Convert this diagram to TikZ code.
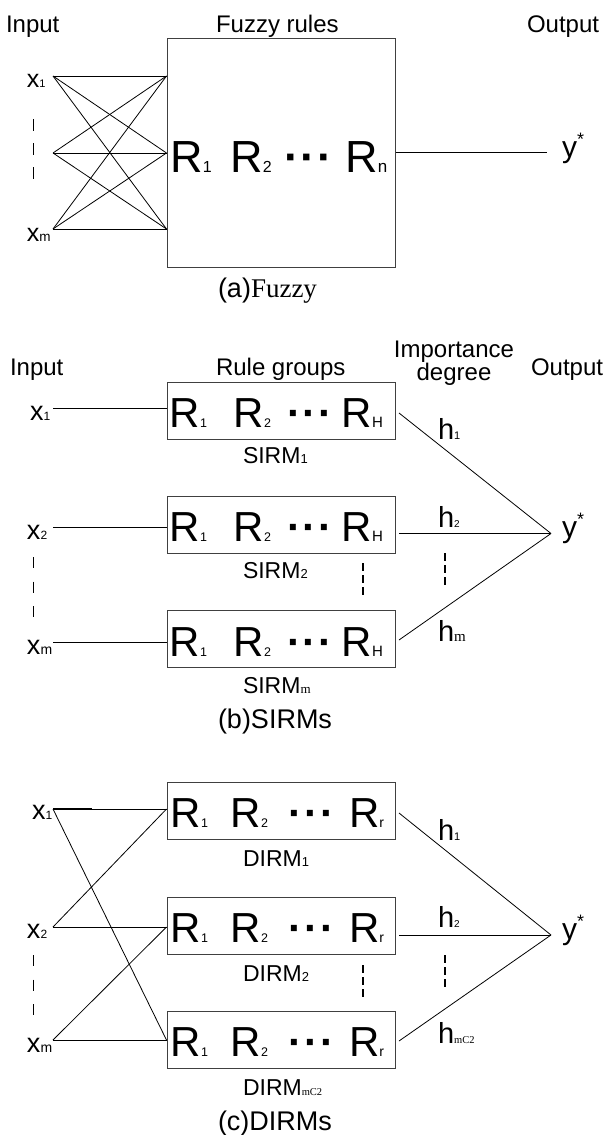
\documentclass[tikz,border=0pt]{standalone}
\usepackage{fontspec}
\setmainfont{Liberation Sans}
\newfontfamily\tnr{Liberation Serif}
\usetikzlibrary{calc}

\newcommand\fs[1]{\fontsize{#1}{#1}\selectfont}
\newcommand\rdots{{\bfseries\char"00B7\kern2pt\char"00B7\kern2pt\char"00B7}}
\newcommand\ystar{{\fs{18}\raisebox{12pt}{*}}}

\begin{document}
\begin{tikzpicture}[x=1pt,y=-1pt,
  txt/.style={inner sep=0pt, outer sep=0pt, anchor=base west},
  hdr/.style={txt, font=\fs{24}},
  caption/.style={txt, font=\fs{27}},
  invar/.style={txt, font=\fs{27}},
  wgt/.style={txt, font=\fs{29}},
  ystyle/.style={txt, font=\fs{30}},
  grp/.style={txt, font=\fs{23}},
  rtext/.style={txt, font=\fs{42}},
  rbig/.style={txt, font=\fs{45}},
  rulebox/.style={draw=black!75, line width=1pt, minimum width=228pt, inner sep=0pt},
  wire/.style={line width=0.8pt, black},
  vdots/.style={line width=1.6pt, dash pattern=on 11pt off 13.5pt},
  gapdash/.style={line width=1.4pt, dash pattern=on 8pt off 4pt},
]
\useasboundingbox (0,0) rectangle (608,1135);

% ---------- (a) single fuzzy rule base ----------
\node[hdr] (a-in) at (6,32) {Input};
\node[hdr] (a-rules) at (216,32) {Fuzzy rules};
\node[hdr] (a-out) at (527,32) {Output};
\node[rulebox, minimum height=229pt] (a-box) at (281,152.5) {};
\node[rbig] (a-r1) at (170.4,172) {R{\fs{16}1}};
\node[rbig] (a-r2) at (230.4,172) {R{\fs{16}2}};
\node[rbig] (a-rd) at (284,172) {\rdots};
\node[rbig] (a-rn) at (345.4,172) {R{\fs{17}n}};

\node[invar, font=\fs{25}] (a-x1) at (27,87) {x{\fs{11}1}};
\node[invar, font=\fs{25}] (a-xm) at (27,241) {x{\fs{13.5}m}};
\coordinate (a-p1) at (53,76);
\coordinate (a-p2) at (53,153);
\coordinate (a-p3) at (53,229);
\foreach \i in {1,2,3}
  \foreach \j in {1,2,3}
    \draw[wire] (a-p\i) -- (a-box.west |- a-p\j);
\draw[vdots, dash pattern=on 12pt off 12pt] (33.5,119) -- (33.5,179);

\coordinate (a-yend) at (547,152.5);
\draw[wire] (a-box.east) -- (a-yend);
\node[ystyle] (a-y) at (562,157) {y\ystar};
\node[caption] (a-cap) at (218,297) {(a){\tnr Fuzzy}};

% ---------- (b) SIRMs ----------
\node[hdr] (b-in) at (10,375) {Input};
\node[hdr] (b-rules) at (216,375) {Rule groups};
\node[inner sep=0pt, outer sep=0pt, anchor=north, align=center,
      font=\fontsize{24}{17}\selectfont] (b-imp) at (454,341) {Importance\\degree};
\node[hdr] (b-out) at (531,375) {Output};

\node[rulebox, minimum height=57pt] (b-box1) at (281,410.5) {};
\node[rulebox, minimum height=57pt] (b-box2) at (281,524.5) {};
\node[rulebox, minimum height=57pt] (b-box3) at (281,639) {};
\foreach \k/\yy in {1/427,2/541,3/656}{
  \node[rtext] (b-r\k a) at (169.7,\yy) {R{\fs{12.5}1}};
  \node[rtext] (b-r\k b) at (233.7,\yy) {R{\fs{12.5}2}};
  \node[rtext] (b-r\k d) at (287,\yy) {\rdots};
  \node[rtext] (b-r\k n) at (341.7,\yy) {R{\fs{15}H}};
}

\node[invar] (b-x1) at (30,420) {x{\fs{12}1}};
\node[invar] (b-x2) at (27,539) {x{\fs{12}2}};
\node[invar] (b-xm) at (27,654) {x{\fs{14}m}};
\coordinate (b-p1) at (53,408);
\coordinate (b-p2) at (53,527);
\coordinate (b-p3) at (53,642);
\draw[wire] (b-p1) -- (b-p1 -| b-box1.west);
\draw[wire] (b-p2) -- (b-p2 -| b-box2.west);
\draw[wire] (b-p3) -- (b-p3 -| b-box3.west);
\draw[vdots] (33.5,557) -- (33.5,617);

\coordinate (b-s1) at (399,413);
\coordinate (b-s2) at (399,533.5);
\coordinate (b-s3) at (399,640);
\coordinate (b-yend) at (551,533.5);
\draw[wire] (b-s1) -- (b-yend);
\draw[wire] (b-s2) -- (b-yend);
\draw[wire] (b-s3) -- (b-yend);
\node[wgt] (b-h1) at (438,439) {h{\fs{11}1}};
\node[wgt] (b-h2) at (438,527) {h{\fs{10}2}};
\node[wgt] (b-hm) at (438,641) {h{\tnr\fs{15}m}};
\draw[gapdash] (363,563) -- (363,598);
\draw[gapdash] (445,553) -- (445,587);

\node[grp] (b-g1) at (243,463) {SIRM{\fs{13}1}};
\node[grp] (b-g2) at (243,578) {SIRM{\fs{13}2}};
\node[grp] (b-g3) at (243,693) {SIRM{\tnr\fs{13}m}};
\node[ystyle] (b-y) at (562,537.5) {y\ystar};
\node[caption] (b-cap) at (218,728) {(b)SIRMs};

% ---------- (c) DIRMs ----------
\node[rulebox, minimum height=57pt] (c-box1) at (281,810.5) {};
\node[rulebox, minimum height=57pt] (c-box2) at (281,925.5) {};
\node[rulebox, minimum height=57pt] (c-box3) at (281,1039.5) {};
\foreach \k/\yy in {1/827,2/942,3/1056}{
  \node[rtext] (c-r\k a) at (170.7,\yy) {R{\fs{12.5}1}};
  \node[rtext] (c-r\k b) at (230.7,\yy) {R{\fs{12.5}2}};
  \node[rtext] (c-r\k d) at (288.5,\yy) {\rdots};
  \node[rtext] (c-r\k n) at (349,\yy) {R{\fs{14}r}};
}

\node[invar] (c-x1) at (32,819) {x{\fs{12}1}};
\node[invar] (c-x2) at (27,938) {x{\fs{12}2}};
\node[invar] (c-xm) at (27,1052) {x{\fs{14}m}};
\coordinate (c-p1) at (53,809);
\coordinate (c-p2) at (53,927);
\coordinate (c-p3) at (53,1040);
\draw[wire] (c-p1) -- (c-box1.west |- c-p1);
\draw[line width=1.8pt] (c-p1) -- ($(c-p1)+(39,0)$);
\draw[wire] (c-p1) -- (c-box3.west |- c-p3);
\draw[wire] (c-p2) -- (c-box1.west |- c-p1);
\draw[wire] (c-p2) -- (c-box2.west |- c-p2);
\draw[wire] (c-p3) -- (c-box2.west |- c-p2);
\draw[wire] (c-p3) -- (c-box3.west |- c-p3);
\draw[vdots] (33.5,955) -- (33.5,1015);

\coordinate (c-s1) at (399,813);
\coordinate (c-s2) at (399,935);
\coordinate (c-s3) at (399,1041);
\coordinate (c-yend) at (551,935);
\draw[wire] (c-s1) -- (c-yend);
\draw[wire] (c-s2) -- (c-yend);
\draw[wire] (c-s3) -- (c-yend);
\node[wgt] (c-h1) at (438,840) {h{\fs{11}1}};
\node[wgt] (c-h2) at (438,927) {h{\fs{10}2}};
\node[wgt] (c-hm) at (438,1043) {h{\tnr\fs{10.5}mC2}};
\draw[gapdash] (363,965) -- (363,998);
\draw[gapdash] (445,955) -- (445,987);

\node[grp] (c-g1) at (243,866) {DIRM{\fs{13}1}};
\node[grp] (c-g2) at (243,981) {DIRM{\fs{13}2}};
\node[grp] (c-g3) at (243,1095) {DIRM{\tnr\fs{10.5}mC2}};
\node[ystyle] (c-y) at (562,939) {y\ystar};
\node[caption] (c-cap) at (218,1130) {(c)DIRMs};
\end{tikzpicture}
\end{document}
